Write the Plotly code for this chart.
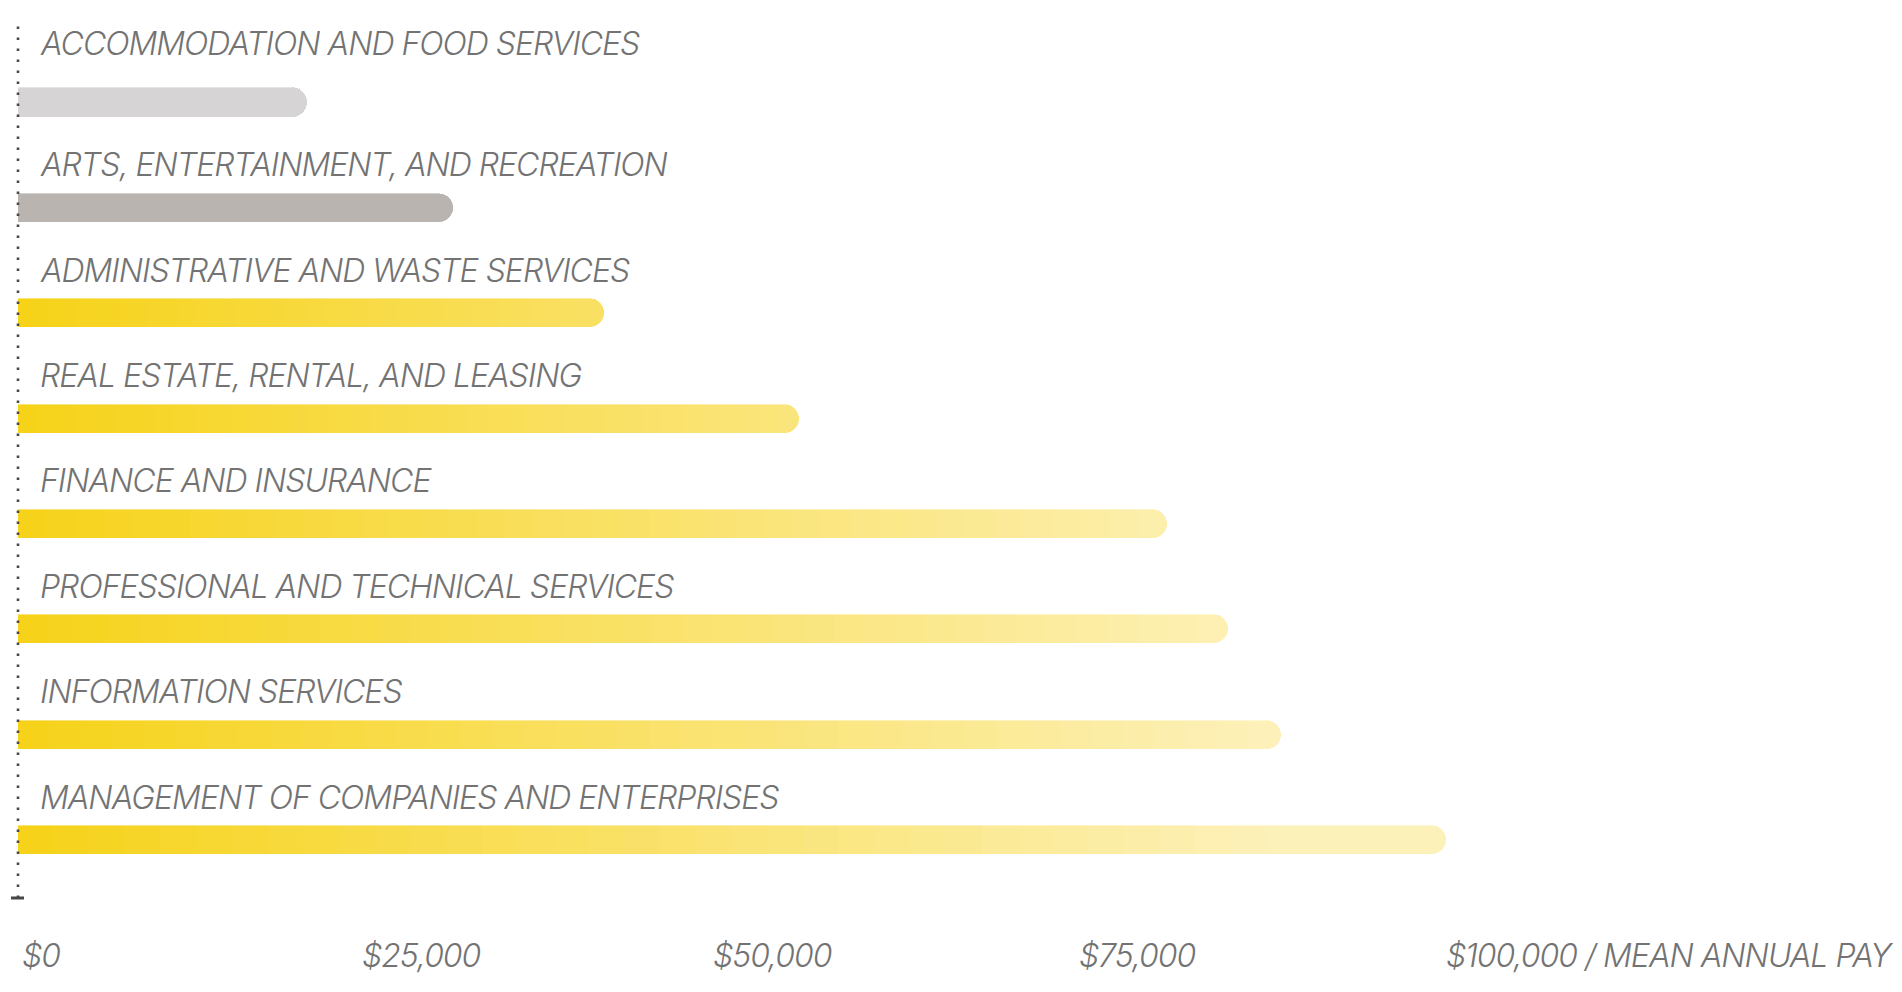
import plotly.graph_objects as go

# ---- data ----
categories = [
    "ACCOMMODATION AND FOOD SERVICES",
    "ARTS, ENTERTAINMENT, AND RECREATION",
    "ADMINISTRATIVE AND WASTE SERVICES",
    "REAL ESTATE, RENTAL, AND LEASING",
    "FINANCE AND INSURANCE",
    "PROFESSIONAL AND TECHNICAL SERVICES",
    "INFORMATION SERVICES",
    "MANAGEMENT OF COMPANIES AND ENTERPRISES",
]
mean_pay = [20300, 30500, 41100, 54800, 80600, 84900, 88600, 100200]
highlight = [False, False, True, True, True, True, True, True]
gray_colors = ["#d6d4d5", "#b9b4b0"]
tick_values = [0, 25000, 50000, 75000, 100000]
tick_labels = ["$0", "$25,000", "$50,000", "$75,000", "$100,000 / MEAN ANNUAL PAY"]

# ---- style ----
FONT = "'Inter Light', Inter, 'Open Sans', sans-serif"
TEXT_COLOR = "#737373"
AXIS_COLOR = "#474747"
GRAD_START = (246, 210, 24)
GRAD_END = (253, 241, 186)
GRAD_SPAN = 88000.0
N_SEG = 40
LABEL_FONT = dict(family=FONT, size=32, color=TEXT_COLOR, weight=300, style="italic")


def spaced(t):
    return f'<span style="letter-spacing:-1px">{t}</span>'


def grad_color(xv):
    t = max(0.0, min(1.0, xv / GRAD_SPAN))
    r, g, b = (round(a + (c - a) * t) for a, c in zip(GRAD_START, GRAD_END))
    return f"rgb({r},{g},{b})"


ypos = list(range(len(categories)))
fig = go.Figure()

for k in range(N_SEG):
    seg_x = [v / N_SEG for v in mean_pay]
    colors = []
    gi = 0
    for i, v in enumerate(mean_pay):
        if highlight[i]:
            colors.append(grad_color((k + 0.5) / N_SEG * v))
        else:
            colors.append(gray_colors[gi] if gi < len(gray_colors) else gray_colors[-1])
            gi += 1
    fig.add_trace(go.Bar(
        y=ypos, x=seg_x, orientation="h", width=0.266,
        marker=dict(color=colors, line=dict(color=colors, width=0.6)),
        hoverinfo="skip", showlegend=False,
    ))

# category labels above bars
for i, name in enumerate(categories):
    fig.add_annotation(
        x=0, y=ypos[i], xref="x", yref="y", text=spaced(name), showarrow=False,
        xanchor="left", yanchor="middle", xshift=20, yshift=59 if i == 0 else 43,
        font=LABEL_FONT,
    )

# x tick labels
tick_shifts = [2, -14, -20, -10, 0]
for tv, tl, sh in zip(tick_values, tick_labels, tick_shifts):
    fig.add_annotation(
        x=tv, y=0, xref="x", yref="paper", text=spaced(tl), showarrow=False,
        xanchor="left", yanchor="middle", xshift=sh, yshift=-57,
        font=LABEL_FONT,
    )

# dotted y axis and bottom tick (paper refs so they are not clipped by the plot area)
fig.add_shape(type="line", xref="paper", yref="paper", x0=0, x1=0, y0=0, y1=1,
              line=dict(color=AXIS_COLOR, width=2.6, dash="2.6px,8.4px"), layer="above")
fig.add_shape(type="line", xref="paper", yref="paper", xsizemode="pixel", xanchor=0,
              x0=-7, x1=6, y0=0, y1=0, line=dict(color=AXIS_COLOR, width=3))

# page body has an 8px margin, so the figure is 16px smaller than the window
fig.update_layout(
    width=1886, height=976,
    margin=dict(l=10, r=0, t=16, b=86),
    paper_bgcolor="white", plot_bgcolor="white",
    barmode="stack", bargap=0, barcornerradius="50%",
    showlegend=False,
    xaxis=dict(range=[0, 131600], visible=False, fixedrange=True),
    yaxis=dict(range=[7.55, -0.745], visible=False, fixedrange=True),
)

fig.write_html("out.html")
